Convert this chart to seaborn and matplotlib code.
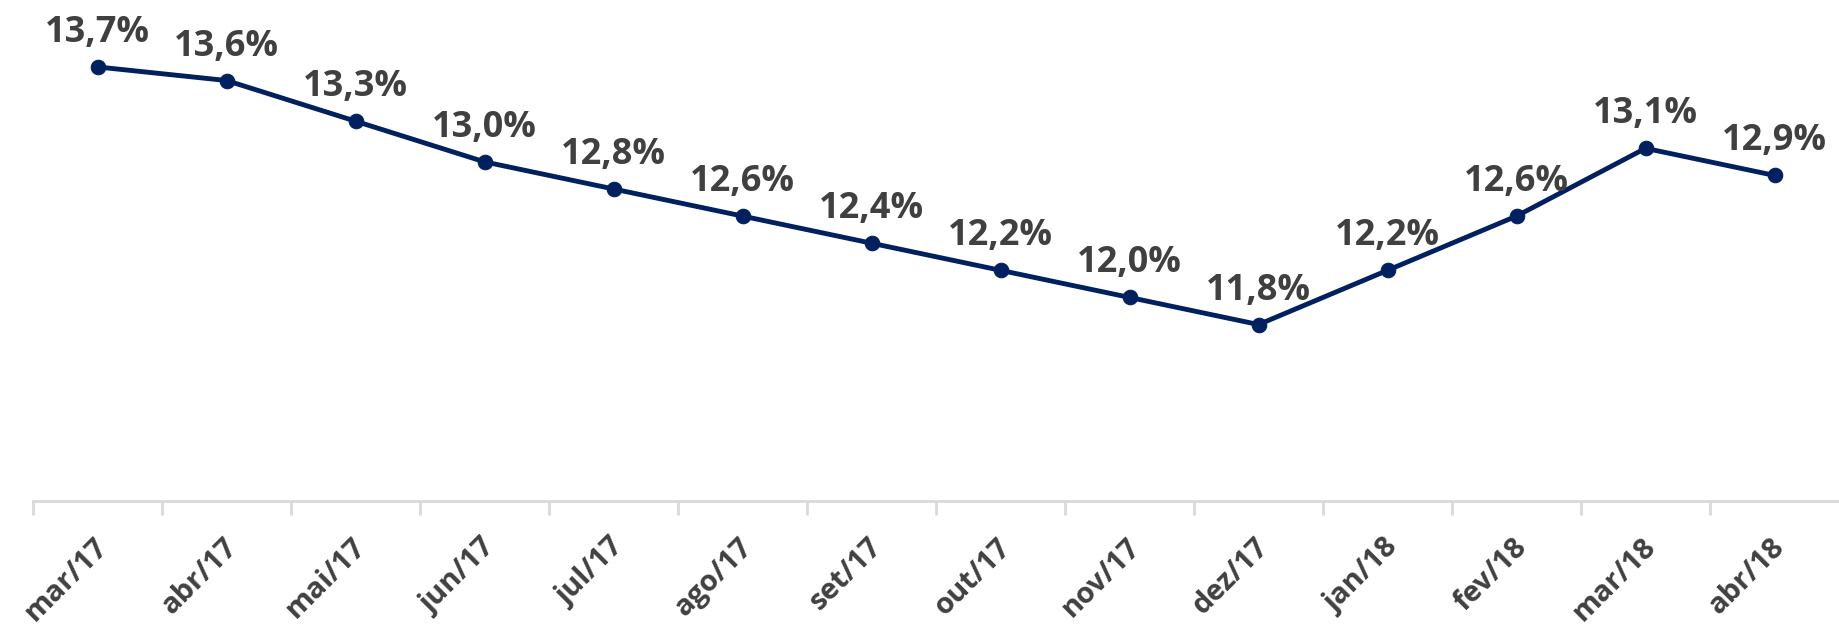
import numpy as np
import pandas as pd
import matplotlib
matplotlib.use("Agg")
import matplotlib.pyplot as plt
import matplotlib.transforms as mtransforms
import seaborn as sns

months = ["mar/17", "abr/17", "mai/17", "jun/17", "jul/17", "ago/17", "set/17",
          "out/17", "nov/17", "dez/17", "jan/18", "fev/18", "mar/18", "abr/18"]
taxa = [13.7, 13.6, 13.3, 13.0, 12.8, 12.6, 12.4, 12.2, 12.0, 11.8, 12.2, 12.6, 13.1, 12.9]

df = pd.DataFrame({"mes": months, "taxa": taxa})

sns.set_style("white")
plt.rcParams["font.family"] = ["Open Sans", "DejaVu Sans"]

fig = plt.figure(figsize=(18.39, 6.26), dpi=100)
ax = fig.add_axes([0.018, 0.2, 0.982, 0.758])

navy = "#002060"
grey = "#404040"

sns.lineplot(data=df, x="mes", y="taxa", ax=ax, color=navy, linewidth=3.5,
             marker="o", markersize=10.5, markeredgecolor=navy, sort=False)

for i, v in enumerate(taxa):
    ax.annotate(f"{v:.1f}%".replace(".", ","), (i, v), xytext=(0, 18),
                textcoords="offset points", ha="center", va="baseline",
                fontsize=26, fontweight="bold", color=grey)

ax.set_xlim(-0.5, len(months) - 0.5)
ax.set_ylim(10.5, 14.0)
ax.set_xlabel("")
ax.set_ylabel("")
ax.set_yticks([])

for s in ["top", "right", "left"]:
    ax.spines[s].set_visible(False)
ax.spines["bottom"].set_color("#d9d9d9")
ax.spines["bottom"].set_linewidth(2)

ax.set_xticks(np.arange(len(months)))
ax.set_xticklabels(months, rotation=45, ha="right", rotation_mode="anchor",
                   fontsize=21, fontweight="bold", color=grey)
ax.tick_params(axis="x", which="major", length=0, pad=23)
ax.set_xticks(np.arange(len(months)) - 0.5, minor=True)
ax.tick_params(axis="x", which="minor", bottom=True, length=10, width=2, color="#d9d9d9")

# nudge the rotated month labels so their top-right corner sits like Excel's
shift = mtransforms.ScaledTranslation(-4 / 100, 0, fig.dpi_scale_trans)
for lbl in ax.get_xticklabels():
    lbl.set_transform(lbl.get_transform() + shift)

fig.savefig("out.png", dpi=100)
